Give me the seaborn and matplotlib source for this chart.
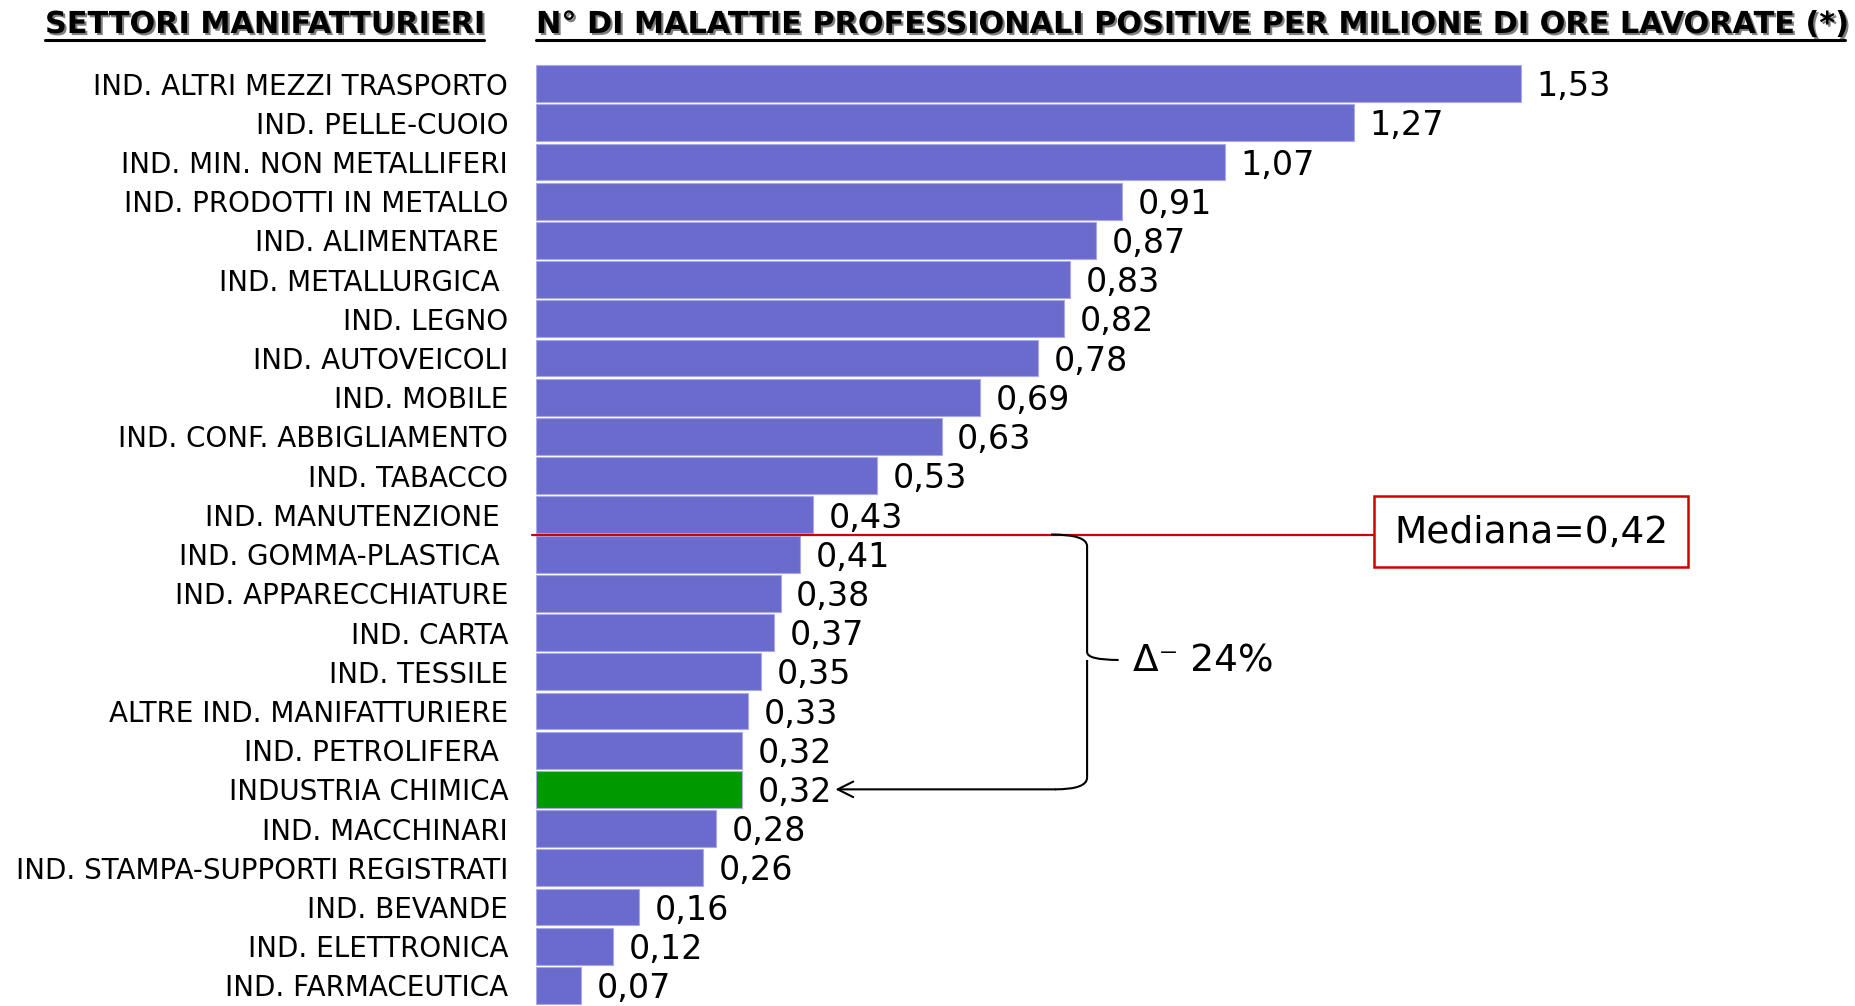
import numpy as np
import pandas as pd
import matplotlib
matplotlib.use("Agg")
import matplotlib.pyplot as plt
import matplotlib.patheffects as pe
from matplotlib.path import Path
from matplotlib.patches import PathPatch, Rectangle
from matplotlib.lines import Line2D
import seaborn as sns

# ---------------- data ----------------
categories = [
    "IND. ALTRI MEZZI TRASPORTO",
    "IND. PELLE-CUOIO",
    "IND. MIN. NON METALLIFERI",
    "IND. PRODOTTI IN METALLO",
    "IND. ALIMENTARE ",
    "IND. METALLURGICA ",
    "IND. LEGNO",
    "IND. AUTOVEICOLI",
    "IND. MOBILE",
    "IND. CONF. ABBIGLIAMENTO",
    "IND. TABACCO",
    "IND. MANUTENZIONE ",
    "IND. GOMMA-PLASTICA ",
    "IND. APPARECCHIATURE",
    "IND. CARTA",
    "IND. TESSILE",
    "ALTRE IND. MANIFATTURIERE",
    "IND. PETROLIFERA ",
    "INDUSTRIA CHIMICA",
    "IND. MACCHINARI",
    "IND. STAMPA-SUPPORTI REGISTRATI",
    "IND. BEVANDE",
    "IND. ELETTRONICA",
    "IND. FARMACEUTICA",
]
values = [1.53, 1.27, 1.07, 0.91, 0.87, 0.83, 0.82, 0.78, 0.69, 0.63, 0.53, 0.43,
          0.41, 0.38, 0.37, 0.35, 0.33, 0.32, 0.32, 0.28, 0.26, 0.16, 0.12, 0.07]
highlight = "INDUSTRIA CHIMICA"
title_left = "SETTORI MANIFATTURIERI"
title_right = "N° DI MALATTIE PROFESSIONALI POSITIVE PER MILIONE DI ORE LAVORATE (*)"

BLUE = "#6B6BCE"
GREEN = "#009900"

sns.set_theme(style="white")
plt.rcParams["font.family"] = ["DejaVu Sans"]

df = pd.DataFrame({"settore": categories, "valore": values})
palette = {c: (GREEN if c == highlight else BLUE) for c in categories}

W, H = 1856, 1006
fig = plt.figure(figsize=(W / 100, H / 100), dpi=100)
ax = fig.add_axes([536 / W, 1 - 1005 / H, 1287.6 / W, (1005 - 64) / H])

sns.barplot(data=df, x="valore", y="settore", hue="settore", palette=palette,
            dodge=False, legend=False, saturation=1, width=0.94,
            edgecolor="#A8A8E6", linewidth=0.8, ax=ax)

ax.set_xlim(0, 2.0)
ax.set_ylim(len(categories) - 0.5, -0.5)
ax.set_xlabel("")
ax.set_ylabel("")
ax.set_xticks([])
for s in ax.spines.values():
    s.set_visible(False)
ax.tick_params(axis="y", length=0, pad=20, labelsize=20, labelcolor="black")

# value labels
for i, v in enumerate(values):
    ax.text(v + 0.024, i + 0.08, f"{v:.2f}".replace(".", ","), ha="left", va="center",
            fontsize=24, color="black")

# median line + box
vals = np.array(values)
median = float(np.median(vals))
y_med = np.sum(vals > median) - 0.5
ax.plot([-0.006, 1.302], [y_med, y_med], color="#D00000", lw=1.6, clip_on=False, zorder=5)
ax.add_patch(Rectangle((1.302, y_med - 0.98), 1.789 - 1.302, 1.82, fill=False,
                       edgecolor="#D00000", lw=1.8, clip_on=False, zorder=5))
ax.text((1.302 + 1.789) / 2, y_med - 0.05, f"Mediana={median:.2f}".replace(".", ","),
        ha="center", va="center", fontsize=27, color="black", zorder=6)

# brace + arrow to highlighted bar
hi = categories.index(highlight)
hv = values[hi]
y_top, y_bot = y_med, float(hi)
y_mid = (y_top + y_bot) / 2 - 0.05
x0, xv, xc = 0.80, 0.856, 0.905
r = 0.3
verts = [(x0, y_top), (xv, y_top), (xv, y_top + r),
         (xv, y_mid - 0.2), (xv, y_mid), (xc, y_mid),
         (xv, y_mid), (xv, y_mid + 0.2),
         (xv, y_bot - r), (xv, y_bot), (xv - 0.05, y_bot)]
codes = [Path.MOVETO, Path.CURVE3, Path.CURVE3,
         Path.LINETO, Path.CURVE3, Path.CURVE3,
         Path.MOVETO, Path.CURVE3,
         Path.LINETO, Path.CURVE3, Path.CURVE3]
ax.add_patch(PathPatch(Path(verts, codes), fill=False, edgecolor="black", lw=1.5,
                       clip_on=False, zorder=6))
ax.annotate("", xy=(hv + 0.145, y_bot), xytext=(xv - 0.049, y_bot),
            arrowprops=dict(arrowstyle="->", lw=1.5, color="black", mutation_scale=28,
                            shrinkA=0, shrinkB=0), zorder=6)
delta = (median - hv) / median * 100
ax.text(xc + 0.022, y_mid + 0.05, f"Δ\u207b {delta:.0f}%", ha="left", va="center",
        fontsize=27, color="black", zorder=6)

# headers
shadow = [pe.SimplePatchShadow(offset=(1.5, -1.5), shadow_rgbFace="#707070", alpha=0.9), pe.Normal()]
t1 = fig.text(45 / W, 1 - 33 / H, title_left, ha="left", va="baseline", fontsize=21.8,
              fontweight="bold", color="black", path_effects=shadow)
t2 = fig.text(536 / W, 1 - 33 / H, title_right, ha="left", va="baseline", fontsize=21.8,
              fontweight="bold", color="black", path_effects=shadow)
fig.canvas.draw()
for t in (t1, t2):
    bb = t.get_window_extent()
    yl = 1 - 40 / H
    fig.add_artist(Line2D([bb.x0 / W, bb.x1 / W], [yl, yl], color="black", lw=2.2,
                          transform=fig.transFigure))

fig.savefig("out.png", dpi=100)
